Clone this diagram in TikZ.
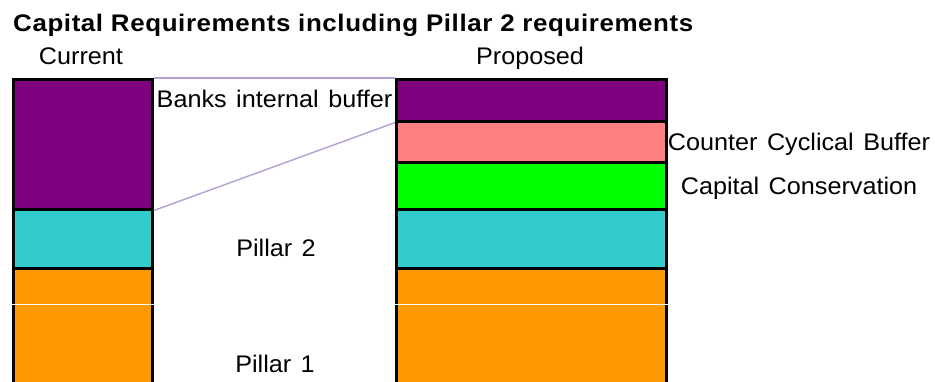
\documentclass[tikz,border=0pt]{standalone}
\usepackage{fontspec}
\setmainfont{Liberation Sans}[WordSpace=1.35,FakeStretch=1.05]
\newfontfamily\titlefont{Liberation Sans}[LetterSpace=2.5,FakeStretch=1.08]
\definecolor{bufpurple}{HTML}{800080}
\definecolor{ccbpink}{HTML}{FF8080}
\definecolor{ccgreen}{HTML}{00FF00}
\definecolor{ptwoteal}{HTML}{33CCCC}
\definecolor{poneorange}{HTML}{FF9900}
\definecolor{linklilac}{RGB}{180,160,210}
\begin{document}
\begin{tikzpicture}[x=1pt,y=-1pt,
  block/.style={draw=black,line width=2.6pt,rectangle,inner sep=0pt,anchor=north west},
  label/.style={inner sep=0pt,anchor=base,font=\fontsize{24}{28}\selectfont},
  link/.style={draw=linklilac,line width=1.4pt}]
\useasboundingbox (0,0) rectangle (935,382);
\clip (0,0) rectangle (935,382);
\fill[white] (0,0) rectangle (935,382);

% current requirements
\node[block,fill=bufpurple,minimum width=139pt,minimum height=130pt] (cBuf) at (12,78) {};
\node[block,fill=ptwoteal,minimum width=139pt,minimum height=59pt] (cP2) at (12,208) {};
\node[block,fill=poneorange,minimum width=139pt,minimum height=140pt] (cP1) at (12,267) {};

% proposed requirements
\node[block,fill=bufpurple,minimum width=270pt,minimum height=42pt] (pBuf) at (395,78) {};
\node[block,fill=ccbpink,minimum width=270pt,minimum height=41pt] (pCcb) at (395,120) {};
\node[block,fill=ccgreen,minimum width=270pt,minimum height=47pt] (pCc) at (395,161) {};
\node[block,fill=ptwoteal,minimum width=270pt,minimum height=59pt] (pP2) at (395,208) {};
\node[block,fill=poneorange,minimum width=270pt,minimum height=140pt] (pP1) at (395,267) {};

% buffer links
\draw[link] (cBuf.north east) -- (pBuf.north west);
\draw[link] (cBuf.south east) -- (pBuf.south west);

% thin white rule across Pillar 1
\draw[white,line width=1pt] (cP1.west |- 0,305) -- (cP1.east |- 0,305);
\draw[white,line width=1pt] (pP1.west |- 0,305) -- (pP1.east |- 0,305);

% texts
\node[inner sep=0pt,anchor=base west,font=\titlefont\fontsize{24}{28}\bfseries] (title) at (13,32)
  {Capital Requirements including Pillar 2 requirements};
\node[label] (tCur) at (81,65) {Current};
\node[label] (tProp) at (530,65) {Proposed};
\node[label] (tBuf) at (274.5,108) {Banks internal buffer};
\node[label] (tP2) at (276,257) {Pillar 2};
\node[label] (tP1) at (275,372) {Pillar 1};
\node[label] (tCcb) at (799,151) {Counter Cyclical Buffer};
\node[label] (tCc) at (799,195) {Capital Conservation};
\end{tikzpicture}
\end{document}
